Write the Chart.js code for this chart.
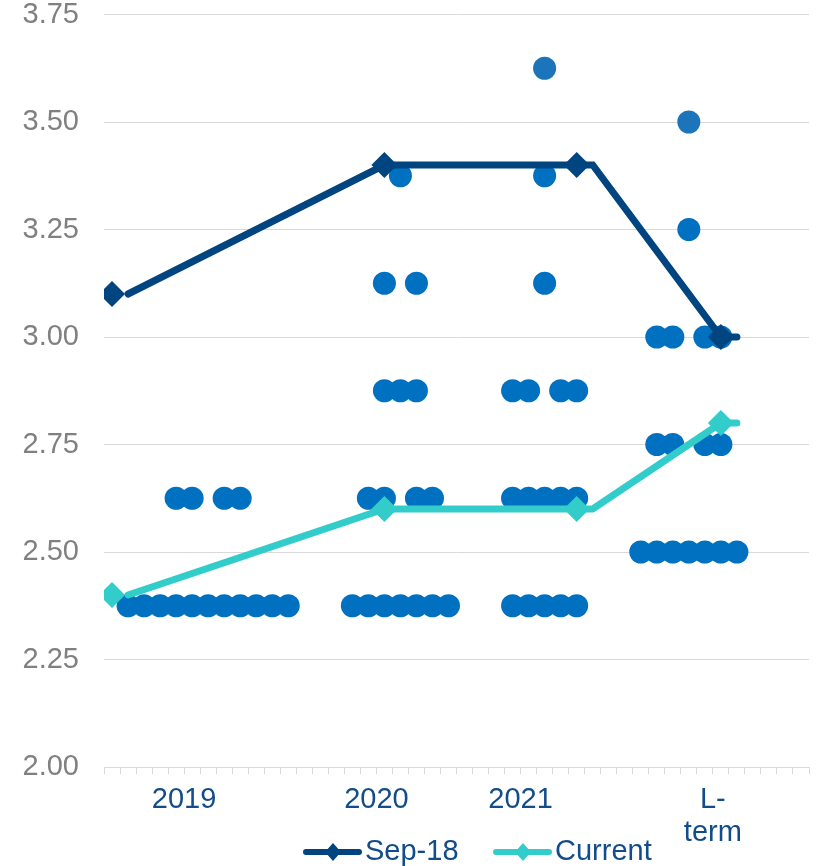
<!DOCTYPE html>
<html>
<head>
<meta charset="utf-8">
<script src="https://cdn.jsdelivr.net/npm/chart.js@4.4.1/dist/chart.umd.min.js"></script>
<style>
  html, body { margin: 0; padding: 0; background: #fff; }
</style>
</head>
<body>
<canvas id="dotChart" width="817" height="866"></canvas>
<script>
// x axis is a row of 44 slots, dots sit one per slot
const slotCount = 44;
const tickPositions = [4.5, 16.5, 25.5, 37.5];
const tickLabels = ['2019', '2020', '2021', ['L-', 'term']];

// dot plot: each rate level and the slots that hold a dot
const dotRates = [3.625, 3.5, 3.375, 3.25, 3.125, 3.0, 2.875, 2.75, 2.625, 2.5, 2.375];
const dotSlots = [
  [27],
  [36],
  [18, 27],
  [36],
  [17, 19, 27],
  [34, 35, 37, 38],
  [17, 18, 19, 25, 26, 28, 29],
  [34, 35, 37, 38],
  [4, 5, 7, 8, 16, 17, 19, 20, 25, 26, 27, 28, 29],
  [33, 34, 35, 36, 37, 38, 39],
  [1, 2, 3, 4, 5, 6, 7, 8, 9, 10, 11, 15, 16, 17, 18, 19, 20, 21, 25, 26, 27, 28, 29]
];

// median lines
const lineSlots = [1, 17, 30, 38, 39];
const markerSlots = [0, 17, 29, 38];
const sep18Line = [3.10, 3.40, 3.40, 3.00, 3.00];
const sep18Markers = [3.10, 3.40, 3.40, 3.00];
const currentLine = [2.40, 2.60, 2.60, 2.80, 2.80];
const currentMarkers = [2.40, 2.60, 2.60, 2.80];

const NAVY = '#00457F';
const TEAL = '#32CDCB';
const DOT = '#0070C0';
const LABEL_BLUE = '#134C8A';
const FONT = "'Liberation Sans', Arial, sans-serif";

function toPoints(slots, values) {
  return slots.map((s, i) => ({ x: s, y: values[i] }));
}

const dots = [];
dotRates.forEach((rate, r) => {
  dotSlots[r].forEach(s => dots.push({ x: s, y: rate }));
});

const legendPlugin = {
  id: 'lineLegend',
  afterDraw(chart) {
    const ctx = chart.ctx;
    const items = [
      { text: 'Sep-18', color: NAVY, x: 306 },
      { text: 'Current', color: TEAL, x: 496 }
    ];
    const y = 852;
    ctx.save();
    items.forEach(it => {
      ctx.strokeStyle = it.color;
      ctx.fillStyle = it.color;
      ctx.lineWidth = 6;
      ctx.lineCap = 'round';
      ctx.beginPath();
      ctx.moveTo(it.x, y);
      ctx.lineTo(it.x + 53, y);
      ctx.stroke();
      const cx = it.x + 27;
      ctx.beginPath();
      ctx.moveTo(cx, y - 9);
      ctx.lineTo(cx + 8, y);
      ctx.lineTo(cx, y + 9);
      ctx.lineTo(cx - 8, y);
      ctx.closePath();
      ctx.fill();
      ctx.fillStyle = LABEL_BLUE;
      ctx.font = '29px ' + FONT;
      ctx.textBaseline = 'middle';
      ctx.textAlign = 'left';
      ctx.fillText(it.text, it.x + 59, y);
    });
    ctx.restore();
  }
};

new Chart(document.getElementById('dotChart'), {
  type: 'scatter',
  data: {
    datasets: [
      {
        label: 'Sep-18',
        data: toPoints(markerSlots, sep18Markers),
        showLine: false,
        pointStyle: 'rectRot',
        pointRadius: 13,
        backgroundColor: NAVY,
        borderWidth: 0
      },
      {
        label: 'Current',
        data: toPoints(markerSlots, currentMarkers),
        showLine: false,
        pointStyle: 'rectRot',
        pointRadius: 13,
        backgroundColor: TEAL,
        borderWidth: 0
      },
      {
        label: 'Sep-18 line',
        data: toPoints(lineSlots, sep18Line),
        showLine: true,
        pointRadius: 0,
        borderColor: NAVY,
        borderWidth: 7,
        borderCapStyle: 'round',
        borderJoinStyle: 'miter'
      },
      {
        label: 'Current line',
        data: toPoints(lineSlots, currentLine),
        showLine: true,
        pointRadius: 0,
        borderColor: TEAL,
        borderWidth: 7,
        borderCapStyle: 'round',
        borderJoinStyle: 'miter'
      },
      {
        label: 'Participants',
        data: dots,
        pointRadius: 11.5,
        backgroundColor: ctx => (ctx.raw && ctx.raw.y >= 3.5 ? '#1C74BA' : DOT),
        borderWidth: 0
      }
    ]
  },
  options: {
    responsive: false,
    animation: false,
    layout: { autoPadding: false, padding: { top: 0, right: 8, bottom: 18, left: 0 } },
    plugins: {
      legend: { display: false },
      tooltip: { enabled: false }
    },
    scales: {
      x: {
        type: 'linear',
        min: -0.5,
        max: slotCount - 0.5,
        afterBuildTicks: axis => {
          const ticks = [];
          for (let i = 0; i <= slotCount; i++) ticks.push({ value: i - 0.5 });
          axis.ticks = ticks;
        },
        afterFit: scale => {
          scale.height = 81;
          scale.paddingLeft = 0;
          scale.paddingRight = 0;
        },
        grid: {
          drawOnChartArea: false,
          drawTicks: true,
          tickLength: 7,
          color: '#D9D9D9'
        },
        border: { display: true, color: '#D9D9D9' },
        ticks: {
          autoSkip: false,
          maxRotation: 0,
          padding: 9,
          color: LABEL_BLUE,
          font: { family: FONT, size: 29, lineHeight: 1.15 },
          callback: value => {
            const i = tickPositions.findIndex(p => Math.abs(p - value) < 0.01);
            return i >= 0 ? tickLabels[i] : '';
          }
        }
      },
      y: {
        min: 2,
        max: 3.75,
        afterFit: scale => { scale.width = 104; },
        grid: { color: '#D9D9D9', drawTicks: true, tickLength: 25, tickColor: 'rgba(0,0,0,0)' },
        border: { display: false },
        ticks: {
          stepSize: 0.25,
          padding: 0,
          color: '#808080',
          font: { family: FONT, size: 29, lineHeight: 1.0 },
          callback: v => v.toFixed(2)
        }
      }
    }
  },
  plugins: [legendPlugin]
});
</script>
</body>
</html>
